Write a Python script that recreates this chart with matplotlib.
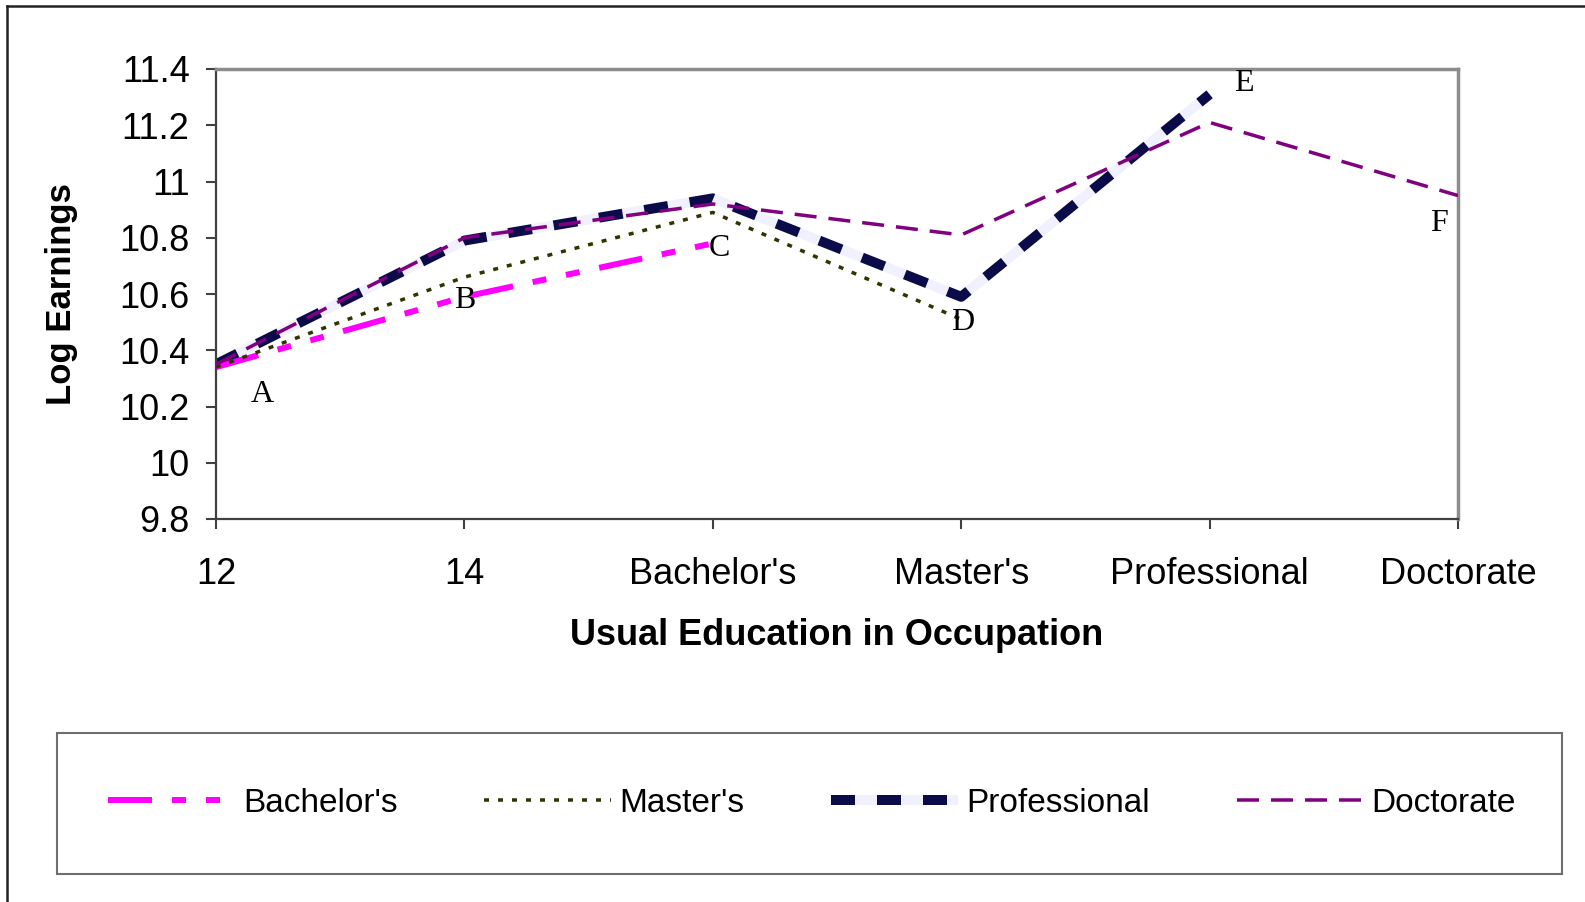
import matplotlib
matplotlib.use("Agg")
import matplotlib.pyplot as plt
from matplotlib.lines import Line2D
from matplotlib.patches import Rectangle

plt.rcParams['font.family'] = ['Liberation Sans', 'DejaVu Sans']
plt.rcParams['lines.scale_dashes'] = False

categories = ["12", "14", "Bachelor's", "Master's", "Professional", "Doctorate"]
bachelors = [10.34, 10.59, 10.78]
masters = [10.34, 10.66, 10.89, 10.51]
professional = [10.35, 10.79, 10.94, 10.59, 11.31]
doctorate = [10.35, 10.80, 10.92, 10.81, 11.21, 10.95]

point_labels = ["A", "B", "C", "D", "E", "F"]
# which point each letter sits beside: (x index, y value)
label_points = [(0, professional[0]), (1, bachelors[1]), (2, bachelors[2]),
                (3, masters[3]), (4, professional[4]), (5, doctorate[5])]
label_offsets = [(33, -22), (0, -3), (5, -4), (1, -2), (25, 8), (-14, -20)]

px = 0.72  # points per pixel at dpi 100
W, H = 1585, 902

fig = plt.figure(figsize=(15.85, 9.02), dpi=100)
ax = fig.add_axes([216 / W, 1 - 519 / H, (1458 - 216) / W, (519 - 69) / H])

x = list(range(len(categories)))

# Professional: thick navy dashes with pale lavender gaps
ax.plot(x[:len(professional)], professional, color='#0b0b4a', lw=10 * px,
        dashes=(24 * px, 22 * px), gapcolor='#f0f0ff', zorder=2,
        solid_capstyle='butt', dash_capstyle='butt', label='Professional')
ax.plot(x[:len(bachelors)], bachelors, color='#ff00ff', lw=6 * px,
        dashes=(44 * px, 20 * px, 14 * px, 20 * px, 14 * px, 20 * px),
        dash_capstyle='butt', zorder=3, label="Bachelor's")
ax.plot(x[:len(masters)], masters, color='#333300', lw=3.5 * px,
        dashes=(5 * px, 9 * px), dash_capstyle='butt', zorder=3, label="Master's")
ax.plot(x, doctorate, color='#800080', lw=3.5 * px,
        dashes=(22 * px, 12 * px), dash_capstyle='butt', zorder=4, label='Doctorate')

for lab, (xi, yv), (dx, dy) in zip(point_labels, label_points, label_offsets):
    ax.annotate(lab, (xi, yv), xytext=(dx, dy), textcoords='offset points',
                ha='center', va='center', fontsize=23, family='Liberation Serif')

ax.set_xlim(0, 5)
ax.set_ylim(9.8, 11.4)
ax.set_yticks([9.8, 10, 10.2, 10.4, 10.6, 10.8, 11, 11.2, 11.4])
ax.set_yticklabels(['9.8', '10', '10.2', '10.4', '10.6', '10.8', '11', '11.2', '11.4'])
ax.set_xticks(x)
ax.set_xticklabels(categories)
ax.tick_params(axis='y', direction='out', length=7, width=1.5, color='#404040',
               labelsize=26, pad=12)
ax.tick_params(axis='x', direction='out', length=7, width=1.5, color='#404040',
               labelsize=26, pad=20)
for side in ['left', 'bottom']:
    ax.spines[side].set_color('#404040')
    ax.spines[side].set_linewidth(1.6)
for side in ['top', 'right']:
    ax.spines[side].set_color('#8c8c8c')
    ax.spines[side].set_linewidth(2.5)

ax.set_xlabel('Usual Education in Occupation', fontsize=26, fontweight='bold', labelpad=19)
ax.set_ylabel('Log Earnings', fontsize=25, fontweight='bold', labelpad=30)

# outer border (top and left edges only visible)
fig.add_artist(Line2D([7 / W, 1], [1 - 6 / H, 1 - 6 / H], color='#222222', lw=1.8))
fig.add_artist(Line2D([7 / W, 7 / W], [0, 1 - 6 / H], color='#222222', lw=1.8))

# legend box
fig.add_artist(Rectangle((57 / W, 1 - 874 / H), (1562 - 57) / W, (874 - 733) / H,
                         transform=fig.transFigure, fill=False,
                         edgecolor='#6e6e6e', lw=1.5))

handles, labels = ax.get_legend_handles_labels()
order = [1, 2, 0, 3]
leg = fig.legend([handles[i] for i in order], [labels[i] for i in order],
                 loc='center', bbox_to_anchor=(812 / W, 1 - 803.5 / H),
                 ncol=4, fontsize=24, handlelength=3.8, handletextpad=0.25,
                 columnspacing=2.6, borderpad=0, frameon=False)

fig.savefig('out.png', dpi=100)
